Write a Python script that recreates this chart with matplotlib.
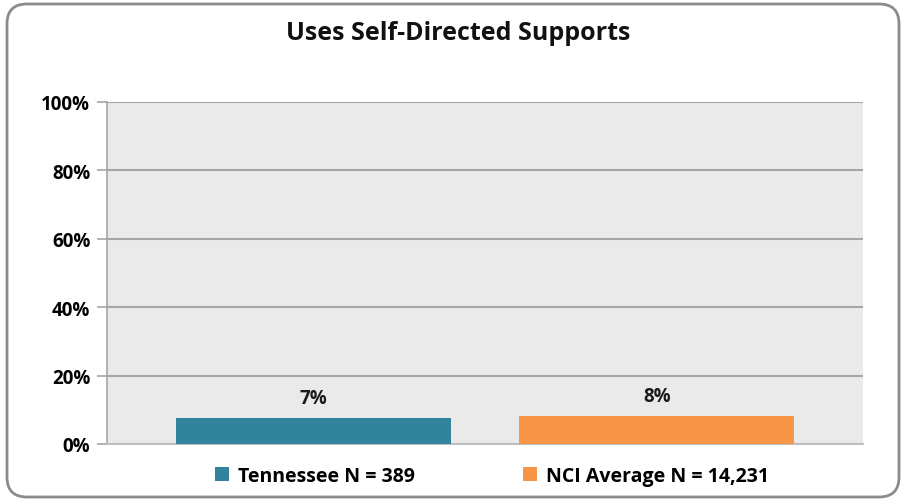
import matplotlib.pyplot as plt
from matplotlib.patches import FancyBboxPatch
from matplotlib.ticker import FuncFormatter

# Chart data
series_names = ["Tennessee N = 389", "NCI Average N = 14,231"]
values = [7.5, 8.2]
value_labels = ["7%", "8%"]
colors = ["#31849B", "#F79646"]
yticks = [0, 20, 40, 60, 80, 100]

plt.rcParams['font.family'] = ['Open Sans', 'DejaVu Sans']

W, H = 903, 502
fig = plt.figure(figsize=(W / 100, H / 100), dpi=100)

# rounded border around the chart
border = FancyBboxPatch((7 / W, 4 / H), (899 - 7) / W, (497 - 4) / H,
                        boxstyle="round,pad=0,rounding_size=0.022",
                        transform=fig.transFigure, facecolor="white",
                        edgecolor="#8C8C8C", linewidth=2, zorder=0,
                        mutation_aspect=W / H)
fig.patches.append(border)

ax = fig.add_axes([107 / W, 1 - 445 / H, (863 - 107) / W, (445 - 103) / H])
ax.set_zorder(2)
ax.set_facecolor("#EAEAEA")

# two series in one category, side by side
width = 0.364
xs = [0.5 - 0.2272, 0.5 + 0.2272]
for x, v, c, name, lab in zip(xs, values, colors, series_names, value_labels):
    ax.bar(x, v, width=width, color=c, label=name, zorder=3)
    ax.text(x, v + 3.0, lab, ha='center', va='bottom', fontsize=13.5,
            fontweight='bold', color="#1a1a1a")

ax.set_xlim(0, 1)
ax.set_ylim(0, 100)
ax.set_yticks(yticks)
ax.yaxis.set_major_formatter(FuncFormatter(lambda v, p: f"{v:.0f}%"))
ax.set_xticks([])
ax.grid(axis='y', color="#A6A6A6", linewidth=1.5, zorder=1)
ax.tick_params(axis='y', length=7, width=1.2, color="#A6A6A6", pad=5,
               labelsize=13.5)
for t in ax.get_yticklabels():
    t.set_fontweight('bold')
for s in ['top', 'right']:
    ax.spines[s].set_visible(False)
ax.spines['left'].set_color("#A6A6A6")
ax.spines['bottom'].set_color("#BFBFBF")
ax.spines['left'].set_linewidth(1.2)
ax.spines['bottom'].set_linewidth(1.5)

fig.text(458 / W, 1 - 34 / H, "Uses Self-Directed Supports", ha='center',
         va='center', fontsize=18, fontweight='bold', color="#111111")

leg = fig.legend(loc='center', bbox_to_anchor=(492 / W, 1 - 477 / H),
                 ncol=2, frameon=False, handlelength=0.7, handleheight=0.7,
                 handletextpad=0.45, columnspacing=5.6,
                 prop={'weight': 'bold', 'size': 14})
leg.set_zorder(3)

fig.savefig("out.png", dpi=100)
